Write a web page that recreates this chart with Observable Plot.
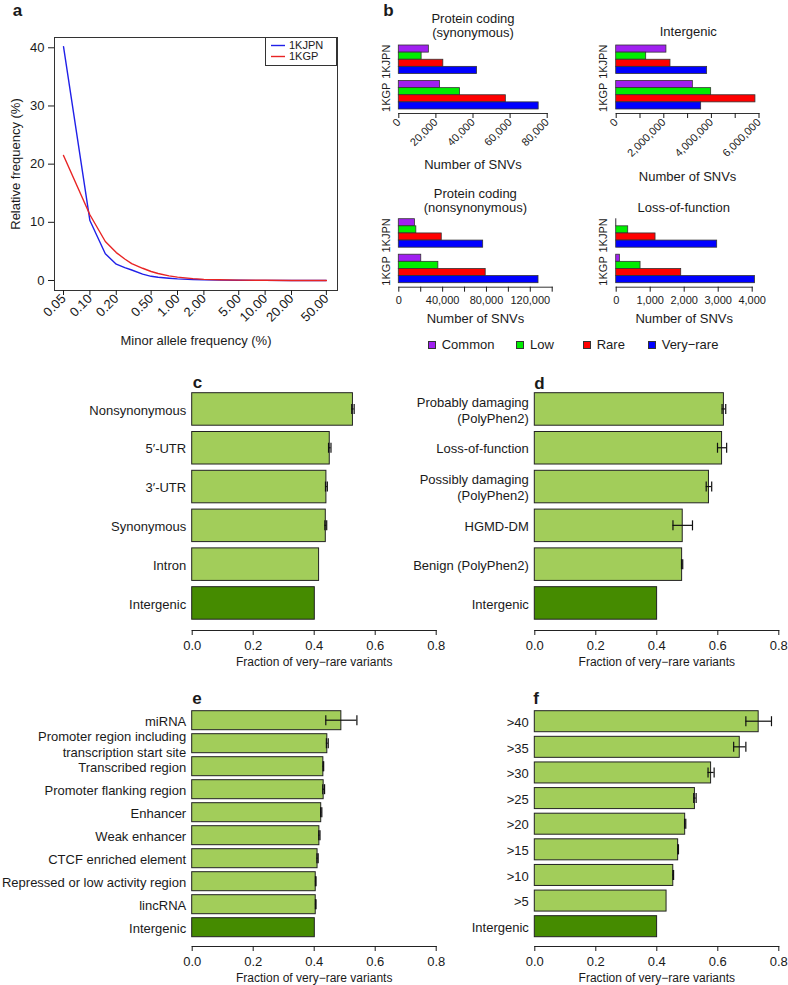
<!DOCTYPE html>
<html><head><meta charset="utf-8">
<script src="https://cdn.jsdelivr.net/npm/d3@7"></script>
<script src="https://cdn.jsdelivr.net/npm/@observablehq/plot@0.6"></script>
<style>
body{margin:0;background:#fff;}
#root{position:relative;width:788px;height:985px;overflow:hidden;font-family:"Liberation Sans",Arial,Helvetica,sans-serif;color:#1a1a1a;background:#fff;}
.t{position:absolute;white-space:nowrap;}
.letter{position:absolute;font-weight:bold;font-size:17px;line-height:17px;}
.title{position:absolute;font-size:13px;line-height:14px;text-align:center;transform:translateX(-50%);white-space:nowrap;}
</style></head><body><div id="root"></div>
<script>
// ---------- Panel a data ----------
const mafBins = [0.05, 0.1, 0.15, 0.2, 0.25, 0.3, 0.4, 0.5, 0.6, 0.8, 1, 1.5, 2, 3, 5, 10, 20, 50];
const freq1KJPN = [40.2, 10.3, 4.6, 2.8, 2.2, 1.8, 1.1, 0.72, 0.55, 0.38, 0.28, 0.17, 0.12, 0.07, 0.04, 0.02, 0.01, 0.0];
const freq1KGP  = [21.5, 11.3, 6.7, 4.8, 3.7, 2.9, 2.1, 1.55, 1.2, 0.8, 0.57, 0.32, 0.2, 0.12, 0.06, 0.03, 0.01, 0.0];
const mafTicks = [0.05, 0.1, 0.2, 0.5, 1, 2, 5, 10, 20, 50];
const mafTickLabels = ["0.05", "0.10", "0.20", "0.50", "1.00", "2.00", "5.00", "10.00", "20.00", "50.00"];
const freqTicks = [0, 10, 20, 30, 40];
const aSeries = ["1KJPN", "1KGP"];
const aColors = ["#2020E8", "#E82424"];

// ---------- Panel b data ----------
const datasets = ["1KJPN", "1KGP"];
const classes = ["Common", "Low", "Rare", "Very\u2212rare"];
const classColors = ["#A020F0", "#00EE00", "#FF0000", "#0000FF"];
const synonymous1KJPN = [16200, 12300, 24000, 42200];
const synonymous1KGP  = [22200, 33000, 57700, 75400];
const intergenic1KJPN = [2110000, 1260000, 2280000, 3820000];
const intergenic1KGP  = [3220000, 3990000, 5850000, 3570000];
const nonsynonymous1KJPN = [14700, 16000, 39200, 77000];
const nonsynonymous1KGP  = [20500, 36100, 79300, 127500];
const lof1KJPN = [5, 353, 1157, 2970];
const lof1KGP  = [108, 716, 1912, 4080];
const synTicks = [0, 20000, 40000, 60000, 80000];
const interTicks = [0, 1e6, 2e6, 3e6, 4e6, 5e6, 6e6];
const nonsynTicks = [0, 20000, 40000, 60000, 80000, 100000, 120000, 140000];
const lofTicks = [0, 1000, 2000, 3000, 4000];

// ---------- Panels c-f data ----------
const cCategories = ["Nonsynonymous", "5\u2032-UTR", "3\u2032-UTR", "Synonymous", "Intron", "Intergenic"];
const cValues = [0.527, 0.451, 0.440, 0.438, 0.416, 0.402];
const cErrors = [0.004, 0.004, 0.003, 0.003, 0, 0];

const dCategories = ["Probably damaging\n(PolyPhen2)", "Loss-of-function", "Possibly damaging\n(PolyPhen2)", "HGMD-DM", "Benign (PolyPhen2)", "Intergenic"];
const dValues = [0.620, 0.614, 0.571, 0.485, 0.483, 0.401];
const dErrors = [0.006, 0.015, 0.009, 0.032, 0.002, 0];

const eCategories = ["miRNA", "Promoter region including\ntranscription start site", "Transcribed region", "Promoter flanking region", "Enhancer", "Weak enhancer", "CTCF enriched element", "Repressed or low activity region", "lincRNA", "Intergenic"];
const eValues = [0.489, 0.443, 0.430, 0.431, 0.423, 0.417, 0.411, 0.405, 0.405, 0.402];
const eErrors = [0.051, 0.003, 0.001, 0.003, 0.002, 0.002, 0.002, 0.001, 0.001, 0];

const fCategories = [">40", ">35", ">30", ">25", ">20", ">15", ">10", ">5", "Intergenic"];
const fValues = [0.734, 0.672, 0.578, 0.525, 0.493, 0.470, 0.454, 0.432, 0.401];
const fErrors = [0.042, 0.020, 0.010, 0.004, 0.002, 0.001, 0.001, 0, 0];

const fracTicks = [0, 0.2, 0.4, 0.6, 0.8];
const lightGreen = "#A2CD5A", darkGreen = "#458B00";

// ---------- helpers ----------
const FONT = '"Liberation Sans", Arial, Helvetica, sans-serif';
const root = document.getElementById("root");
function place(node, left, top) {
  const d = document.createElement("div");
  d.style.cssText = `position:absolute;left:${left}px;top:${top}px;`;
  d.appendChild(node);
  root.appendChild(d);
}
function html(cls, content, left, top, extra = "") {
  const d = document.createElement("div");
  d.className = cls;
  d.innerHTML = content;
  d.style.cssText = `left:${left}px;top:${top}px;${extra}`;
  root.appendChild(d);
  return d;
}
const baseStyle = (size) => ({fontFamily: FONT, fontSize: size + "px", color: "#1a1a1a", background: "transparent", overflow: "visible"});

// ---------- Panel a ----------
const aRows = [];
mafBins.forEach((m, i) => {
  aRows.push({maf: m, freq: freq1KJPN[i], set: "1KJPN"});
  aRows.push({maf: m, freq: freq1KGP[i], set: "1KGP"});
});
const aTickRows = mafTicks.map((t, i) => ({t, label: mafTickLabels[i]}));
place(Plot.plot({
  width: 350, height: 360,
  marginLeft: 54, marginTop: 37, marginRight: 13, marginBottom: 70,
  style: baseStyle(13),
  x: {type: "log", domain: [0.03945, 67]},
  y: {domain: [-1.72, 41.77]},
  color: {domain: aSeries, range: aColors},
  marks: [
    Plot.frame({stroke: "#333"}),
    Plot.line(aRows, {x: "maf", y: "freq", z: "set", stroke: "set", strokeWidth: 1.4}),
    Plot.axisX({ticks: mafTicks, tickFormat: () => "", tickSize: 5, tickPadding: 3,
      label: "Minor allele frequency (%)", labelAnchor: "center", labelOffset: 54, labelArrow: "none"}),
    Plot.text(aTickRows, {x: "t", text: "label", frameAnchor: "bottom", rotate: -45, textAnchor: "end", dx: 3, dy: 9, fontSize: 13}),
    Plot.axisY({ticks: freqTicks, tickSize: 6, tickPadding: 4,
      label: "Relative frequency (%)", labelAnchor: "center", labelOffset: 44, labelArrow: "none"})
  ]
}), 0, 0);

// legend a
(function() {
  const box = document.createElement("div");
  box.style.cssText = "position:absolute;left:265px;top:37px;width:72px;height:29px;box-sizing:border-box;border:1px solid #333;background:#fff;font-size:11px;";
  aSeries.forEach((s, i) => {
    const row = document.createElement("div");
    row.style.cssText = `position:absolute;left:5px;top:${2 + i * 11}px;height:11px;line-height:11px;white-space:nowrap;`;
    row.innerHTML = `<svg width="14" height="11" style="vertical-align:top;margin-right:4px;"><line x1="0" x2="14" y1="5.5" y2="5.5" stroke="${aColors[i]}" stroke-width="1.4"/></svg>${s}`;
    box.appendChild(row);
  });
  root.appendChild(box);
})();

// ---------- Panel b ----------
const fmtComma = d3.format(",");
function panelB({v1, v2, left, top, width, height, mL, mR, mT, mB, max, ticks, every, rotate, labelOffset}) {
  const rows = [];
  datasets.forEach((s, j) => classes.forEach((c, i) => rows.push({set: s, cls: c, n: (j === 0 ? v1 : v2)[i]})));
  place(Plot.plot({
    width, height, marginLeft: mL, marginRight: mR, marginTop: mT, marginBottom: mB,
    insetBottom: 4,
    style: baseStyle(11),
    facet: {data: rows, y: "set"},
    fy: {domain: datasets, paddingInner: 0.085, paddingOuter: 0, round: false, label: null},
    y: {domain: classes, padding: 0, round: false, axis: null},
    x: {domain: [0, max]},
    color: {domain: classes, range: classColors},
    marks: [
      Plot.barX(rows, {x: "n", y: "cls", fill: "cls", stroke: "#333", strokeWidth: 0.8}),
      Plot.frame({anchor: "bottom", facetAnchor: "bottom", stroke: "#333"}),
      Plot.axisX({ticks, tickFormat: d => (d % every ? "" : fmtComma(d)), tickRotate: rotate, tickSize: 5,
        tickPadding: rotate ? 2 : 4, label: null, fontSize: 11}),
      Plot.axisX({ticks: [], tickSize: 0, label: "Number of SNVs", labelAnchor: "center", labelOffset, labelArrow: "none", fontSize: 13}),
      Plot.axisFy({anchor: "left", tickRotate: -90, tickSize: 0, tickPadding: 9, label: null, fontSize: 11})
    ]
  }), left, top);
}
panelB({v1: synonymous1KJPN, v2: synonymous1KGP, left: 380, top: 0, width: 180, height: 185, mL: 18.3, mR: 13.3, mT: 45, mB: 72, max: 80000, ticks: synTicks, every: 20000, rotate: -45, labelOffset: 55});
panelB({v1: intergenic1KJPN, v2: intergenic1KGP, left: 596, top: 0, width: 192, height: 185, mL: 19.7, mR: 29.5, mT: 45, mB: 72, max: 6e6, ticks: interTicks, every: 2e6, rotate: -45, labelOffset: 67});
panelB({v1: nonsynonymous1KJPN, v2: nonsynonymous1KGP, left: 380, top: 180, width: 180, height: 155, mL: 18.3, mR: 8.3, mT: 38.7, mB: 48.3, max: 140000, ticks: nonsynTicks, every: 40000, rotate: 0, labelOffset: 36});
panelB({v1: lof1KJPN, v2: lof1KGP, left: 596, top: 180, width: 192, height: 155, mL: 19.7, mR: 36.3, mT: 38.7, mB: 48.3, max: 4000, ticks: lofTicks, every: 1000, rotate: 0, labelOffset: 36});

html("title", "Protein coding<br>(synonymous)", 473, 11.6);
html("title", "Intergenic", 688.3, 24.6);
html("title", "Protein coding<br>(nonsynonymous)", 475.3, 186.6);
html("title", "Loss-of-function", 683.7, 200.6);

// legend b
(function() {
  const sq = [427.7, 516, 582.7, 647.7];
  classes.forEach((c, i) => {
    html("t", `<span style="display:inline-block;width:8px;height:8px;box-sizing:border-box;border:1px solid #333;background:${classColors[i]};margin-right:6px;"></span>${c}`,
      sq[i], 337, "font-size:13px;line-height:16px;");
  });
})();

// ---------- Panels c-f ----------
function barPanel({cats, vals, errs, left, top, width, height, mL, mR, mT, mB, inset, padding}) {
  const rows = cats.map((c, i) => ({cat: c, v: vals[i], e: errs[i], g: c === "Intergenic" ? "Intergenic" : "Other"}));
  const n = cats.length;
  const innerH = height - mT - mB - inset;
  const step = innerH / (n - padding);
  const bw = step * (1 - padding);
  const capInset = (bw - 10) / 2;
  const lineInset = (bw - 1.2) / 2;
  const errRows = rows.filter(d => d.e > 0);
  place(Plot.plot({
    width, height, marginLeft: mL, marginRight: mR, marginTop: mT, marginBottom: mB,
    insetBottom: inset,
    style: baseStyle(13),
    x: {domain: [0, 0.8]},
    y: {domain: cats, paddingInner: padding, paddingOuter: 0, round: false},
    color: {domain: ["Other", "Intergenic"], range: [lightGreen, darkGreen]},
    marks: [
      Plot.barX(rows, {x: "v", y: "cat", fill: "g", stroke: "#222", strokeWidth: 1}),
      Plot.barX(errRows, {x1: d => d.v - d.e, x2: d => d.v + d.e, y: "cat", fill: "#111", insetTop: lineInset, insetBottom: lineInset}),
      Plot.tickX(errRows, {x: d => d.v - d.e, y: "cat", stroke: "#111", strokeWidth: 1.2, insetTop: capInset, insetBottom: capInset}),
      Plot.tickX(errRows, {x: d => d.v + d.e, y: "cat", stroke: "#111", strokeWidth: 1.2, insetTop: capInset, insetBottom: capInset}),
      Plot.frame({anchor: "bottom", stroke: "#222"}),
      Plot.axisX({ticks: fracTicks, tickFormat: d3.format(".1f"), tickSize: 5, tickPadding: 5, label: null}),
      Plot.axisX({ticks: [], tickSize: 0, label: "Fraction of very\u2212rare variants", labelAnchor: "center", labelOffset: 35, labelArrow: "none", fontSize: 12}),
      Plot.axisY({tickSize: 0, tickPadding: 6, label: null, lineHeight: 1.25})
    ]
  }), left, top);
}
barPanel({cats: cCategories, vals: cValues, errs: cErrors, left: 0, top: 370, width: 450, height: 300, mL: 191.7, mR: 14.3, mT: 22.7, mB: 40, inset: 10.8, padding: 0.162});
barPanel({cats: dCategories, vals: dValues, errs: dErrors, left: 394, top: 370, width: 394, height: 300, mL: 140.3, mR: 9.7, mT: 22.7, mB: 40, inset: 10.8, padding: 0.162});
barPanel({cats: eCategories, vals: eValues, errs: eErrors, left: 0, top: 690, width: 450, height: 295, mL: 191.7, mR: 14.3, mT: 20.7, mB: 39, inset: 9.3, padding: 0.174});
barPanel({cats: fCategories, vals: fValues, errs: fErrors, left: 394, top: 690, width: 394, height: 295, mL: 140.3, mR: 9.7, mT: 20.7, mB: 39, inset: 9.3, padding: 0.18});

// panel letters
html("letter", "a", 12.7, 2.3);
html("letter", "b", 383.3, 2.3);
html("letter", "c", 192.7, 373.6);
html("letter", "d", 534.3, 374.6);
html("letter", "e", 192.3, 689.6);
html("letter", "f", 533.3, 689.6);
</script></body></html>
